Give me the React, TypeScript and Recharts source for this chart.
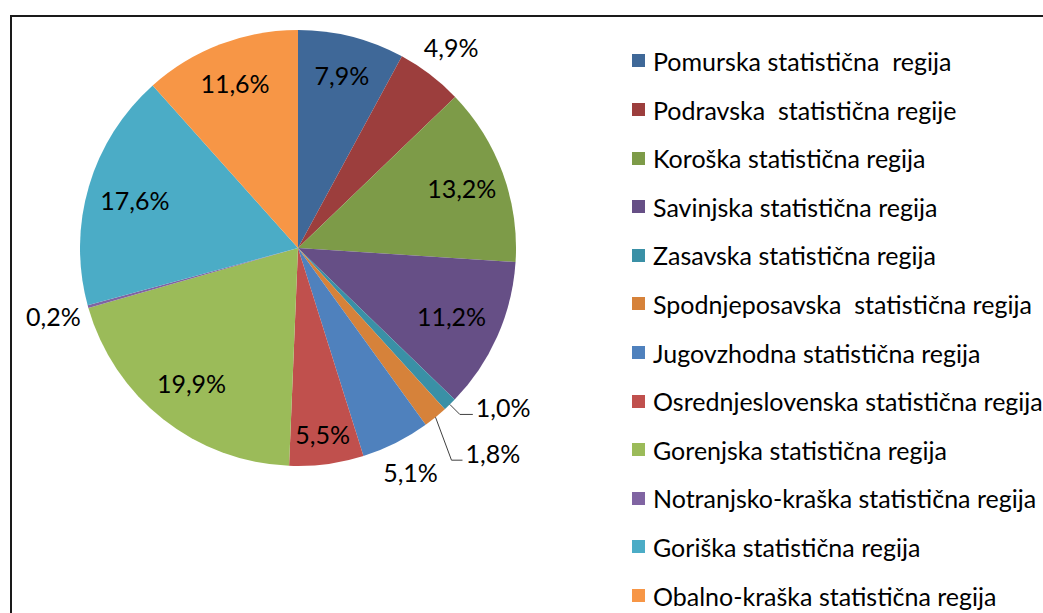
import React from 'react';
import { PieChart, Pie, Cell, Legend } from 'recharts';

const regions = [
  'Pomurska statistična  regija',
  'Podravska  statistična regije',
  'Koroška statistična regija',
  'Savinjska statistična regija',
  'Zasavska statistična regija',
  'Spodnjeposavska  statistična regija',
  'Jugovzhodna statistična regija',
  'Osrednjeslovenska statistična regija',
  'Gorenjska statistična regija',
  'Notranjsko-kraška statistična regija',
  'Goriška statistična regija',
  'Obalno-kraška statistična regija',
];

const shares = [7.9, 4.9, 13.2, 11.2, 1.0, 1.8, 5.1, 5.5, 19.9, 0.2, 17.6, 11.6];

const shareLabels = ['7,9%', '4,9%', '13,2%', '11,2%', '1,0%', '1,8%', '5,1%', '5,5%', '19,9%', '0,2%', '17,6%', '11,6%'];

const colors = [
  '#3F6898', '#9C3E3D', '#7D9B48', '#664F86', '#3A90A6', '#D6823A',
  '#4F81BD', '#C0504D', '#9BBB59', '#8064A2', '#4BACC6', '#F79646',
];

const data = regions.map((name, i) => ({ name, value: shares[i] }));

// label placement (style only): radial factor, or leader-line elbow [dx, dy, horizontal length]
type Placement = { r?: number; leader?: [number, number, number] };
const labelPlacement: Placement[] = [
  { r: 0.82 }, { r: 1.16 }, { r: 0.8 }, { r: 0.77 },
  { leader: [10, 10, 13] }, { leader: [16, 43, 11] },
  { r: 1.15 }, { r: 0.86 }, { r: 0.79 }, { r: 1.165 }, { r: 0.78 }, { r: 0.81 },
];

const FONT = 'Lato, "Liberation Sans", sans-serif';

const renderLabel = (props: any) => {
  const { cx, cy, midAngle, outerRadius, index } = props;
  const RAD = Math.PI / 180;
  const cos = Math.cos(-midAngle * RAD);
  const sin = Math.sin(-midAngle * RAD);
  const p = labelPlacement[index];
  const text = shareLabels[index];
  if (p.leader) {
    const sx = cx + outerRadius * cos;
    const sy = cy + outerRadius * sin;
    const [ex, ey, h] = p.leader;
    const mx = sx + ex;
    const my = sy + ey;
    return (
      <g key={`lbl-${index}`}>
        <polyline
          points={`${sx},${sy} ${mx},${my} ${mx + h},${my}`}
          fill="none"
          stroke="#404040"
          strokeWidth={1}
        />
        <text
          x={mx + h + 3}
          y={my - 7}
          dominantBaseline="central"
          textAnchor="start"
          fill="#000"
          fontSize={25}
          fontFamily={FONT}
        >
          {text}
        </text>
      </g>
    );
  }
  const r = outerRadius * (p.r as number);
  return (
    <text
      key={`lbl-${index}`}
      x={cx + r * cos}
      y={cy + r * sin}
      dominantBaseline="central"
      textAnchor="middle"
      fill="#000"
      fontSize={25}
      fontFamily={FONT}
    >
      {text}
    </text>
  );
};

const renderLegend = () => (
  <div style={{ fontFamily: FONT, fontSize: 25, color: '#000' }}>
    {regions.map((name, i) => (
      <div
        key={name}
        style={{ height: 48.6, display: 'flex', alignItems: 'center', whiteSpace: 'pre' }}
      >
        <span
          style={{
            display: 'inline-block',
            width: 13,
            height: 13,
            background: colors[i],
            marginRight: 8,
            flex: '0 0 auto',
          }}
        />
        <span>{name}</span>
      </div>
    ))}
  </div>
);

export default function App() {
  return (
    <div
      style={{
        position: 'absolute',
        left: 0,
        top: 0,
        width: 1043,
        height: 613,
        overflow: 'hidden',
        background: '#fff',
      }}
    >
      <div
        style={{
          position: 'absolute',
          left: 10,
          top: 15,
          width: 1100,
          height: 700,
          border: '2px solid #1a1a1a',
          boxSizing: 'border-box',
        }}
      />
      <div style={{ position: 'absolute', left: 0, top: 0 }}>
        <PieChart width={1043} height={613} margin={{ top: 0, right: 0, bottom: 0, left: 0 }}>
          <Pie
            data={data}
            dataKey="value"
            nameKey="name"
            cx={298}
            cy={248}
            outerRadius={218}
            startAngle={90}
            endAngle={-270}
            stroke="none"
            label={renderLabel}
            labelLine={false}
            isAnimationActive={false}
          >
            {data.map((d, i) => (
              <Cell key={d.name} fill={colors[i]} />
            ))}
          </Pie>
          <Legend
            layout="vertical"
            align="right"
            verticalAlign="top"
            content={renderLegend}
            wrapperStyle={{ left: 632, top: 36.7, width: 420 }}
          />
        </PieChart>
      </div>
    </div>
  );
}
